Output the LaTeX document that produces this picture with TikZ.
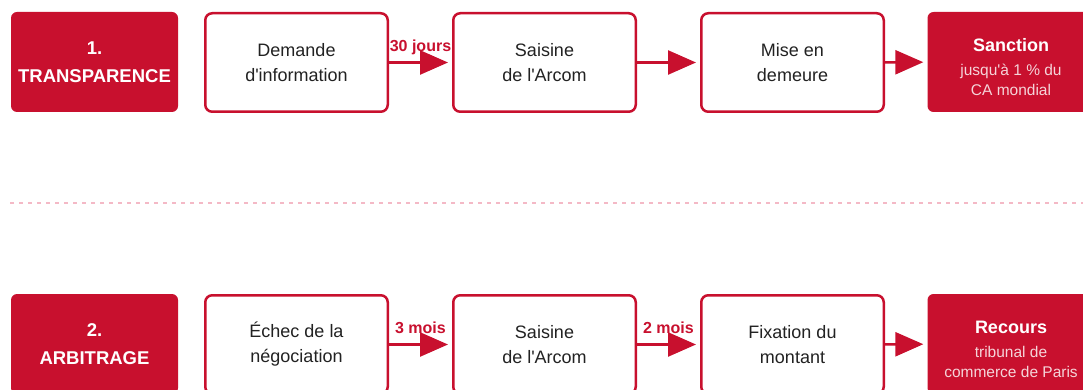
\documentclass[tikz,border=0pt]{standalone}
\usepackage{fontspec}
\setmainfont{Liberation Sans}
\usepackage{tikz}
\usetikzlibrary{arrows.meta}
\definecolor{arcred}{HTML}{C8102E}
\definecolor{ink}{HTML}{222222}
\definecolor{seppink}{HTML}{F4B9C6}
\colorlet{subwhite}{white!82!arcred}

\begin{document}
\begin{tikzpicture}[x=1pt,y=-1pt,
    phase/.style={fill=arcred,rounded corners=6pt,minimum width=167pt,minimum height=100pt,
        text=white,align=center,font=\fontsize{18.5}{28}\selectfont\bfseries},
    stepbox/.style={draw=arcred,line width=2.5pt,fill=white,rounded corners=7pt,
        minimum width=182.5pt,minimum height=98.5pt,text=ink,align=center,font=\fontsize{18}{25}\selectfont},
    endbox/.style={fill=arcred,rounded corners=6pt,minimum width=167pt,minimum height=100pt,
        text=subwhite,align=center,font=\fontsize{15.5}{20}\selectfont},
    arr/.style={arcred,line width=2.5pt,-{Triangle[length=28pt,width=24pt]},shorten >=4pt},
    delay/.style={text=arcred,font=\fontsize{16}{16}\selectfont\bfseries,anchor=base,yshift=11pt}]
    \clip[use as bounding box] (0,0) rectangle (1083,390);
    \draw [seppink,line width=1.5pt,dash pattern=on 4pt off 5pt](10,203)--(1083,203);
    \node[phase] (trans) at (94.5,62) {1.\\TRANSPARENCE};
    \node[stepbox] (dem) at (296.5,62.5) {Demande\\d\textquotesingle information};
    \node[stepbox] (sais1) at (544.5,62.5) {Saisine\\de l\textquotesingle Arcom};
    \node[stepbox] (mise) at (792.5,62.5) {Mise en\\demeure};
    \node[endbox] (sanc) at (1011,62) {\rule{0pt}{24pt}{\color{white}\fontsize{18}{20}\selectfont\bfseries Sanction}\\[4pt]jusqu\textquotesingle à 1 \% du\\CA mondial};
    \draw [arr](dem)--node[delay]{30 jours}(sais1);
    \draw [arr](sais1)--(mise);
    \draw [arr](mise)--(sanc);
    \node[phase] (arbi) at (94.5,344) {2.\\ARBITRAGE};
    \node[stepbox] (echec) at (296.5,344.5) {Échec de la\\négociation};
    \node[stepbox] (sais2) at (544.5,344.5) {Saisine\\de l\textquotesingle Arcom};
    \node[stepbox] (fix) at (792.5,344.5) {Fixation du\\montant};
    \node[endbox] (recours) at (1011,344) {\rule{0pt}{24pt}{\color{white}\fontsize{18}{20}\selectfont\bfseries Recours}\\[4pt]tribunal de\\commerce de Paris};
    \draw [arr](echec)--node[delay]{3 mois}(sais2);
    \draw [arr](sais2)--node[delay]{2 mois}(fix);
    \draw [arr](fix)--(recours);
\end{tikzpicture}
\end{document}
